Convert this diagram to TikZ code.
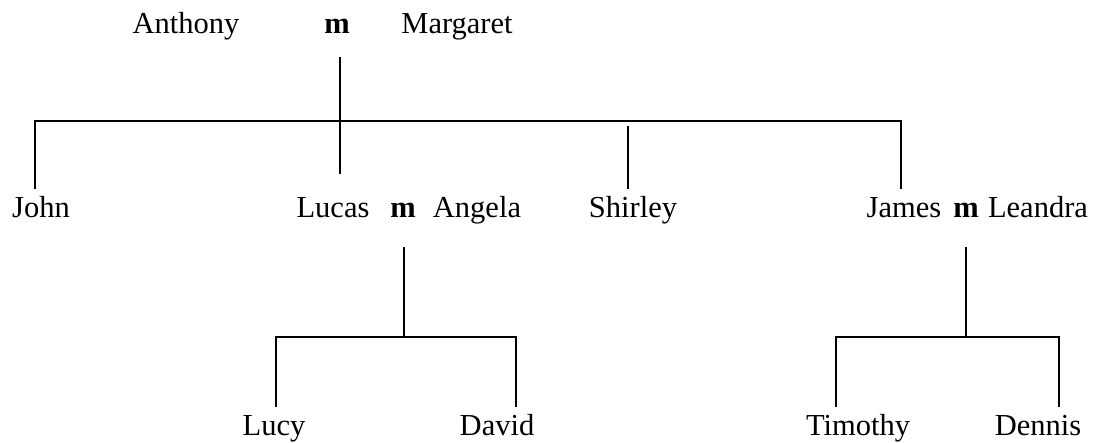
\documentclass[tikz,border=0pt]{standalone}
\usepackage{fontspec}
\setmainfont{Liberation Serif}
\begin{document}
\begin{tikzpicture}[x=1pt,y=-1pt,
  person/.style={font=\fontsize{30.5}{36}\selectfont, inner sep=0pt, anchor=base},
  wed/.style={person, font=\fontsize{30.5}{36}\selectfont\bfseries},
  ln/.style={line width=1.8pt}]
\useasboundingbox (0,0) rectangle (1098,442);
% generation 1
\node[person] (anthony) at (186,33) {Anthony};
\node[wed] (m1) at (337,33) {m};
\node[person] (margaret) at (457,33) {Margaret};
% generation 2
\node[person] (john) at (41,217) {John};
\node[person] (lucas) at (333,217) {Lucas};
\node[wed] (m2) at (403,217) {m};
\node[person] (angela) at (477,217) {Angela};
\node[person] (shirley) at (633,217) {Shirley};
\node[person] (james) at (904,217) {James};
\node[wed] (m3) at (966,217) {m};
\node[person] (leandra) at (1038,217) {Leandra};
% generation 3
\node[person] (lucy) at (274,435) {Lucy};
\node[person] (david) at (497,435) {David};
\node[person] (timothy) at (858,435) {Timothy};
\node[person] (dennis) at (1038,435) {Dennis};
% coordinates of the lines
\coordinate (m1d) at (340,57);
\coordinate (lucasup) at (340,174);
\coordinate (johnup) at (35,189);
\coordinate (busL) at (35,121);
\coordinate (busR) at (901,121);
\coordinate (jamesup) at (901,189);
\coordinate (shirleytop) at (628,126);
\coordinate (shirleyup) at (628,189);
\coordinate (m2d) at (404,247);
\coordinate (bus2) at (404,337);
\coordinate (lucyup) at (276,407);
\coordinate (davidup) at (516,407);
\coordinate (m3d) at (966,247);
\coordinate (bus3) at (966,337);
\coordinate (timothyup) at (836,407);
\coordinate (dennisup) at (1059,407);
% lines
\draw[ln] (m1d) -- (lucasup);
\draw[ln] (johnup) -- (busL) -- (busR) -- (jamesup);
\draw[ln] (shirleytop) -- (shirleyup);
\draw[ln] (m2d) -- (bus2);
\draw[ln] (lucyup) |- (bus2) -| (davidup);
\draw[ln] (m3d) -- (bus3);
\draw[ln] (timothyup) |- (bus3) -| (dennisup);
\end{tikzpicture}
\end{document}
